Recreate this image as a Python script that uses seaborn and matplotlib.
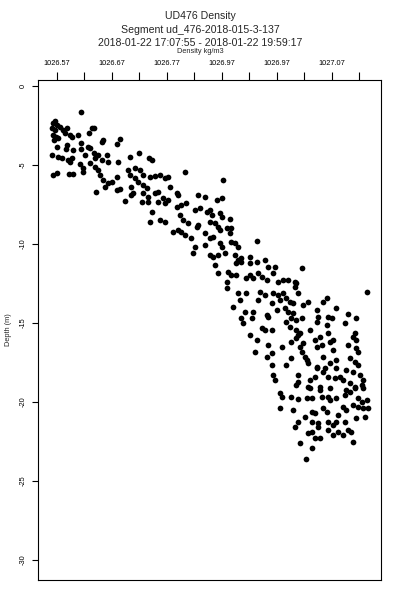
import matplotlib
matplotlib.use("Agg")
import matplotlib.pyplot as plt
import seaborn as sns
import pandas as pd

# density (kg/m3) and depth (m)
density = [
    1026.614, 1026.567, 1026.564, 1026.570, 1026.561, 1026.567, 1026.564, 1026.569, 1026.573, 1026.565,
    1026.576, 1026.582, 1026.588, 1026.585, 1026.594, 1026.597, 1026.608, 1026.634, 1026.637, 1026.629,
    1026.655, 1026.652, 1026.685, 1026.680, 1026.570, 1026.588, 1026.587, 1026.600, 1026.615, 1026.615,
    1026.627, 1026.631, 1026.561, 1026.573, 1026.579, 1026.591, 1026.597, 1026.594, 1026.621, 1026.637,
    1026.640, 1026.646, 1026.652, 1026.661, 1026.664, 1026.612, 1026.618, 1026.617, 1026.631, 1026.640,
    1026.646, 1026.649, 1026.682, 1026.703, 1026.720, 1026.738, 1026.743, 1026.564, 1026.570, 1026.593,
    1026.600, 1026.700, 1026.712, 1026.722, 1026.727, 1026.703, 1026.712, 1026.718, 1026.655, 1026.664,
    1026.670, 1026.679, 1026.658, 1026.679, 1026.685, 1026.641, 1026.694, 1026.706, 1026.709, 1026.706,
    1026.727, 1026.734, 1026.740, 1026.749, 1026.758, 1026.767, 1026.773, 1026.803, 1026.727, 1026.737,
    1026.749, 1026.755, 1026.776, 1026.788, 1026.791, 1026.725, 1026.737, 1026.743, 1026.740, 1026.755,
    1026.767, 1026.773, 1026.797, 1026.806, 1026.788, 1026.758, 1026.767, 1026.794, 1026.800,
    1026.873, 1026.827, 1026.840, 1026.861, 1026.870, 1026.821, 1026.831, 1026.843, 1026.849, 1026.852,
    1026.867, 1026.870, 1026.885, 1026.827, 1026.825, 1026.840, 1026.849, 1026.858, 1026.864, 1026.867,
    1026.879, 1026.888, 1026.885, 1026.797, 1026.803, 1026.815, 1026.821, 1026.818, 1026.849, 1026.855,
    1026.840, 1026.867, 1026.870, 1026.888, 1026.894, 1026.900, 1026.934, 1026.849, 1026.855, 1026.864,
    1026.876, 1026.894, 1026.900, 1026.906, 1026.922, 1026.922, 1026.934, 1026.949, 1026.858, 1026.864,
    1026.882, 1026.888, 1026.879, 1026.897, 1026.915, 1026.922, 1026.927, 1026.936, 1026.943, 1026.952,
    1026.955, 1026.967, 1026.964, 1026.973, 1026.982, 1026.991, 1027.003,
    1027.016, 1027.006, 1027.003, 1026.879, 1026.900, 1026.915, 1026.940, 1026.949, 1026.964, 1026.973,
    1026.982, 1026.988, 1027.009, 1026.903, 1026.937, 1026.961, 1026.976, 1026.994, 1027.000, 1027.018,
    1027.027, 1027.055, 1027.061, 1026.891, 1026.912, 1026.927, 1026.955, 1026.970, 1026.985, 1026.991,
    1027.000, 1027.043, 1027.079, 1026.906, 1026.909, 1026.925, 1026.952, 1026.988, 1026.997, 1027.006,
    1027.016, 1027.043, 1027.046, 1027.064, 1027.070, 1027.061, 1026.922, 1026.943, 1026.949, 1026.961,
    1026.994, 1027.006, 1027.009, 1027.031, 1027.040, 1027.049, 1027.064, 1026.934, 1026.955, 1026.979,
    1026.997, 1027.006, 1027.018, 1027.043, 1027.052, 1027.067, 1027.073, 1027.073, 1026.931, 1026.952,
    1026.961, 1026.997, 1027.022, 1027.027, 1027.043, 1027.055, 1027.067, 1027.079, 1026.961, 1026.988,
    1027.058,
    1027.135, 1027.100, 1027.115, 1027.094, 1027.112, 1027.109, 1027.115, 1027.100, 1027.115, 1027.118,
    1027.103, 1027.112, 1027.118, 1027.097, 1027.109, 1027.121, 1027.127, 1027.125, 1027.112, 1027.103,
    1027.085, 1027.091, 1027.055, 1027.064, 1027.076, 1027.040, 1027.031, 1027.043, 1027.009, 1027.009,
    1026.964, 1026.967, 1027.027, 1027.049, 1027.067,
    1027.006, 1027.079, 1027.127, 1026.976, 1026.979, 1026.997, 1027.009, 1027.025, 1027.031, 1027.034,
    1027.049, 1027.052, 1027.064, 1027.067, 1027.079, 1027.094, 1027.097, 1027.103, 1027.112, 1027.118,
    1027.125, 1027.134, 1027.137, 1026.976, 1027.000, 1027.022, 1027.034, 1027.040, 1027.055, 1027.061,
    1027.082, 1027.091, 1027.097, 1027.109, 1027.118, 1027.127, 1027.003, 1027.009, 1027.034, 1027.046,
    1027.046, 1027.064, 1027.073, 1027.079, 1027.094, 1027.115, 1027.131, 1027.027, 1027.034, 1027.040,
    1027.049, 1027.064, 1027.073, 1027.082, 1027.091, 1027.100, 1027.106, 1027.109, 1027.012, 1027.034,
    1027.023, 1026.782, 1026.791, 1026.809,
    1026.906, 1026.897, 1027.012, 1027.012, 1027.016, 1027.025, 1026.764,
]

depth = [
    -1.66, -2.22, -2.36, -2.47, -2.68, -2.78, -3.10, -3.21, -3.31, -3.42,
    -2.58, -2.78, -2.68, -2.99, -3.10, -3.21, -3.10, -2.64, -2.68, -2.99,
    -3.42, -3.53, -3.37, -3.69, -3.84, -3.73, -3.99, -4.05, -3.99, -3.63,
    -3.84, -3.94, -4.37, -4.47, -4.58, -4.68, -4.58, -4.79, -4.37, -4.26,
    -4.58, -4.37, -4.68, -4.37, -4.79, -4.96, -5.21, -5.42, -4.89, -5.11,
    -5.32, -5.63, -4.79, -4.47, -4.26, -4.58, -4.68, -5.63, -5.53, -5.59,
    -5.59, -5.32, -5.17, -5.32, -5.63, -5.63, -5.84, -6.06, -5.95, -6.16,
    -6.09, -5.74, -6.37, -6.58, -6.52, -6.73, -7.28, -6.37, -6.79, -6.90,
    -6.27, -6.47, -5.74, -5.68, -5.63, -5.84, -5.74, -5.46, -6.79, -7.01,
    -6.79, -6.69, -6.37, -6.79, -6.90, -7.32, -7.32, -7.96, -8.59, -7.32,
    -7.42, -7.22, -7.53, -7.42, -7.64, -8.48, -8.59, -8.16, -8.48,
    -5.95, -6.90, -7.01, -7.22, -7.11, -7.85, -7.74, -7.96, -7.85, -8.16,
    -8.06, -8.27, -8.42, -8.80, -8.91, -9.32, -8.59, -8.69, -8.91, -9.11,
    -9.01, -9.01, -9.32, -9.22, -9.43, -9.64, -10.17, -10.59, -9.64, -9.54,
    -10.06, -9.96, -10.17, -9.85, -9.96, -10.17, -9.81, -10.70, -10.80, -10.70,
    -10.59, -10.70, -11.01, -11.12, -10.80, -11.22, -11.12, -11.01, -11.33, -11.85,
    -11.75, -11.96, -12.39, -11.96, -12.17, -11.96, -12.17, -11.85, -12.07, -12.28,
    -11.44, -11.44, -11.85, -12.39, -12.28, -12.28, -12.39,
    -11.54, -12.49, -12.70, -12.80, -13.12, -13.12, -13.02, -13.23, -13.12, -13.23,
    -13.12, -13.44, -13.12, -13.54, -13.54, -13.75, -13.54, -13.65, -13.75, -13.86,
    -13.65, -13.65, -13.44, -13.97, -14.28, -14.28, -14.60, -14.18, -14.07, -14.28,
    -14.39, -14.18, -14.07, -14.70, -15.02, -14.70, -14.49, -14.92, -14.70, -14.81,
    -14.70, -14.92, -14.60, -14.60, -14.70, -15.13, -15.76, -15.34, -15.44, -15.44,
    -15.23, -15.44, -15.76, -15.44, -16.08, -15.87, -15.65, -16.08, -16.39, -16.50,
    -16.18, -15.97, -16.28, -16.50, -16.39, -16.18, -16.08, -16.71, -16.82, -17.13,
    -16.92, -17.23, -17.13, -17.55, -17.77, -17.13, -17.55, -17.34, -17.66, -17.66,
    -17.87,
    -13.06, -14.45, -14.70, -15.02, -15.65, -15.87, -16.08, -16.39, -16.60, -16.82,
    -17.23, -17.45, -17.66, -17.97, -18.08, -18.29, -18.61, -18.92, -19.03, -18.82,
    -18.40, -18.61, -18.08, -18.40, -18.50, -18.40, -18.61, -17.87, -18.29, -18.72,
    -18.29, -18.61, -19.03, -19.03, -19.13,
    -18.92, -17.87, -19.13, -19.45, -19.70, -19.66, -19.81, -19.77, -19.13, -19.77,
    -19.24, -19.66, -19.66, -19.87, -19.77, -19.56, -19.24, -19.35, -19.13, -19.77,
    -19.98, -19.87, -20.40, -20.40, -20.51, -20.93, -20.61, -20.72, -20.40, -20.61,
    -20.82, -20.30, -20.51, -20.19, -20.30, -20.40, -21.56, -21.25, -21.25, -21.35,
    -21.56, -21.25, -21.46, -21.25, -21.25, -21.03, -20.93, -21.98, -21.88, -22.30,
    -22.26, -21.77, -22.09, -21.88, -22.09, -21.77, -21.88, -22.51, -22.61, -22.93,
    -23.63, -9.22, -9.11, -8.69,
    -10.91, -11.22, -15.65, -16.50, -16.82, -17.34, -7.11,
]

x_ticks = [1026.57, 1026.62, 1026.67, 1026.72, 1026.77, 1026.82,
           1026.87, 1026.92, 1026.97, 1027.02, 1027.07, 1027.12]
x_tick_labels = ["1026.57", "", "1026.67", "", "1026.77", "",
                 "1026.97", "", "1026.97", "", "1027.07", ""]
y_ticks = [0, -5, -10, -15, -20, -25, -30]

df = pd.DataFrame({"density": density, "depth": depth})

sns.set_style("white")
plt.rcParams["font.family"] = ["Liberation Sans", "DejaVu Sans"]

fig = plt.figure(figsize=(4, 6), dpi=100)
ax = fig.add_axes([0.095, 0.0333, 0.8575, 0.8334])

sns.scatterplot(data=df, x="density", y="depth", color="black", s=17,
                linewidth=0, ax=ax, legend=False)

ax.set_xlim(1026.536, 1027.160)
ax.set_ylim(-31.27, 0.38)

ax.xaxis.tick_top()
ax.set_xticks(x_ticks)
ax.set_xticklabels(x_tick_labels)
ax.set_yticks(y_ticks)
ax.set_yticklabels([str(v) for v in y_ticks], rotation=90, va="center")
ax.tick_params(axis="x", top=True, bottom=False, length=6, width=0.8,
               direction="out", labelsize=5.3, pad=3, colors="black")
ax.tick_params(axis="y", left=True, length=4, width=0.8, direction="out",
               labelsize=5.3, pad=4, colors="black")
ax.set_xlabel("")
ax.set_ylabel("Depth (m)", fontsize=5.3, labelpad=6)

for s in ax.spines.values():
    s.set_color("black")
    s.set_linewidth(0.8)

fig.text(0.5, 1 - 16 / 600, "UD476 Density", ha="center", va="center", fontsize=7.6)
fig.text(0.5, 1 - 30 / 600, "Segment ud_476-2018-015-3-137", ha="center", va="center", fontsize=7.6)
fig.text(0.5, 1 - 43 / 600, "2018-01-22 17:07:55 - 2018-01-22 19:59:17", ha="center", va="center", fontsize=7.6)
fig.text(0.5, 1 - 51.5 / 600, "Density kg/m3", ha="center", va="center", fontsize=5.3)

fig.savefig("out.png", dpi=100)
